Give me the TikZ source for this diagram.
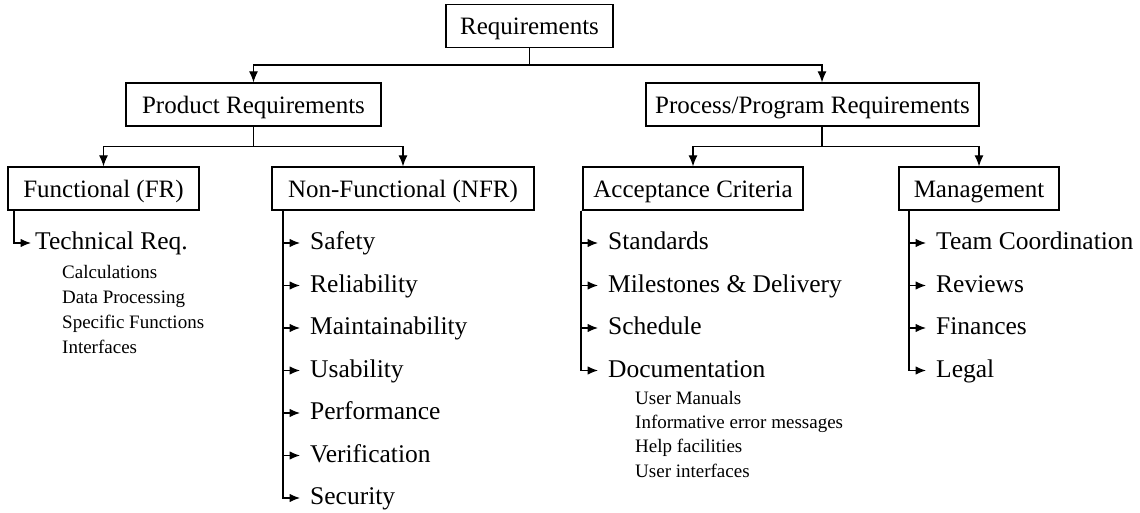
\documentclass[tikz,border=0pt]{standalone}
\usepackage{fontspec}
\setmainfont{Liberation Serif}
\usetikzlibrary{arrows.meta}
\tikzset{
	box/.style={draw,line width=1.2pt,minimum height=43pt,inner sep=0pt,
		text height=18pt,text depth=0pt,font=\fontsize{25}{30}\selectfont},
	item/.style={anchor=west,inner ysep=0pt,text height=17pt,text depth=4pt,
		font=\fontsize{25.5}{30}\selectfont},
	subitem/.style={anchor=west,inner sep=0pt,text height=13pt,text depth=3pt,
		font=\fontsize{19}{23}\selectfont},
	link/.style={line width=1.2pt,-{Latex[length=11pt,width=9pt]}},
	branch/.style={line width=1.2pt,-{Latex[length=10.5pt,width=8.5pt]}},
}
\newcommand{\reqlist}[4]
{\foreach \txt [count=\k] in {#4} {
	\node[item,inner xsep=#3] (#1-\k) at (#2+17,{243+42.5*(\k-1)}) {\txt};
	\draw[branch] (#1.south -| #2,0) |- (#1-\k.west);
}
}

\begin{document}
\begin{tikzpicture}[x=1pt,y=-1pt]
\useasboundingbox (0,0) rectangle (1140,513);

\node[box,minimum width=167pt] (req) at (529.5,26) {Requirements};
\node[box,minimum width=255pt] (prod) at (253.5,104.5) {Product Requirements};
\node[box,minimum width=333pt] (proc) at (812.5,104.5) {Process/Program Requirements};
\node[box,minimum width=191pt] (func) at (103.5,188.5) {Functional (FR)};
\node[box,minimum width=262pt] (nfr) at (403,188.5) {Non-Functional (NFR)};
\node[box,minimum width=220pt] (acc) at (693,188.5) {Acceptance Criteria};
\node[box,minimum width=160pt] (mgmt) at (979,188.5) {Management};

\draw[line width=1.2pt] (req.south) -- ++(0,17) coordinate (reqfork);
\draw[link] (reqfork) -| (prod.north);
\draw[link] (reqfork) -| ([xshift=9.5pt]proc.north);

\draw[line width=1.2pt] (prod.south) -- ++(0,20) coordinate (prodfork);
\draw[link] (prodfork) -| (func.north);
\draw[link] (prodfork) -| (nfr.north);

\draw[line width=1.2pt] ([xshift=9.5pt]proc.south) -- ++(0,20) coordinate (procfork);
\draw[link] (procfork) -| (acc.north);
\draw[link] (procfork) -| (mgmt.north);

\reqlist{func}{14}{4pt}{Technical Req.}
\reqlist{nfr}{283}{10pt}{Safety,Reliability,Maintainability,Usability,Performance,Verification,Security}
\reqlist{acc}{581}{10pt}{Standards,Milestones \& Delivery,Schedule,Documentation}
\reqlist{mgmt}{909}{10pt}{Team Coordination,Reviews,Finances,Legal}

\foreach \txt [count=\k] in {Calculations,Data Processing,Specific Functions,Interfaces}
	\node[subitem] (tech-\k) at (62,{273+25.3*(\k-1)}) {\txt};
\foreach \txt [count=\k] in {User Manuals,Informative error messages,Help facilities,User interfaces}
	\node[subitem] (doc-\k) at (635,{399+24.4*(\k-1)}) {\txt};

\end{tikzpicture}
\end{document}
